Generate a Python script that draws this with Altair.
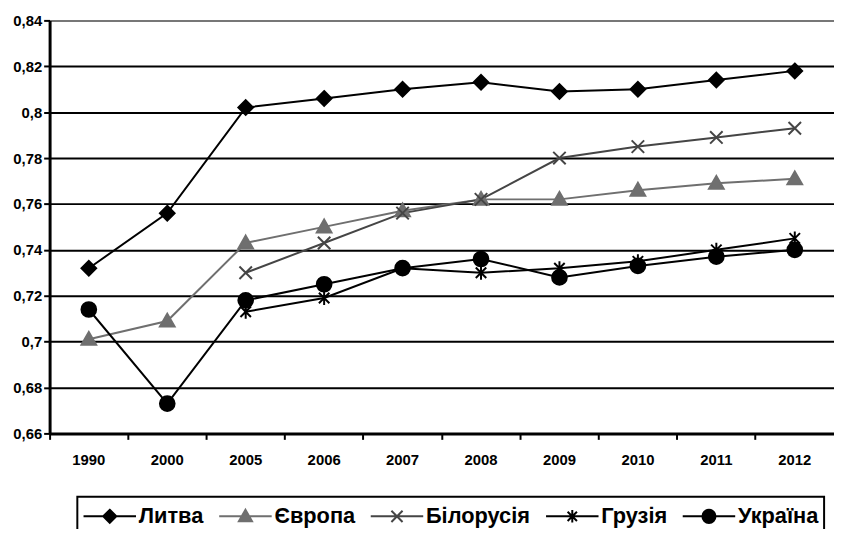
import altair as alt
import pandas as pd

years = ["1990", "2000", "2005", "2006", "2007", "2008", "2009", "2010", "2011", "2012"]
series_names = ["Литва", "Європа", "Білорусія", "Грузія", "Україна"]
lytva = [0.732, 0.756, 0.802, 0.806, 0.810, 0.813, 0.809, 0.810, 0.814, 0.818]
yevropa = [0.701, 0.709, 0.743, 0.750, 0.757, 0.762, 0.762, 0.766, 0.769, 0.771]
bilorusia = [None, None, 0.730, 0.743, 0.756, 0.762, 0.780, 0.785, 0.789, 0.793]
hruzia = [None, None, 0.713, 0.719, 0.732, 0.730, 0.732, 0.735, 0.740, 0.745]
ukraina = [0.714, 0.673, 0.718, 0.725, 0.732, 0.736, 0.728, 0.733, 0.737, 0.740]
y_ticks = [0.66, 0.68, 0.70, 0.72, 0.74, 0.76, 0.78, 0.80, 0.82, 0.84]

rows = []
for name, vals in zip(series_names, [lytva, yevropa, bilorusia, hruzia, ukraina]):
    for yr, v in zip(years, vals):
        if v is not None:
            rows.append({"year": yr, "series": name, "value": v})
df = pd.DataFrame(rows)

line_colors = ["#000000", "#6f6f6f", "#454545", "#000000", "#000000"]


def f(v):
    return f"{v:.3f}"


def diamond(r, c=0.0):
    return f"M{f(c)},{f(-r)}L{f(c + r)},0L{f(c)},{f(r)}L{f(c - r)},0Z"


def triangle(r, c=0.0):
    return f"M{f(c)},{f(-r)}L{f(c + r)},{f(0.75 * r)}L{f(c - r)},{f(0.75 * r)}Z"


def xcross(r, c=0.0):
    return f"M{f(c - r)},{f(-r)}L{f(c + r)},{f(r)}M{f(c - r)},{f(r)}L{f(c + r)},{f(-r)}"


def asterisk(r, c=0.0):
    a = 0.75 * r
    return (f"M{f(c - a)},{f(-a)}L{f(c + a)},{f(a)}M{f(c - a)},{f(a)}L{f(c + a)},{f(-a)}"
            f"M{f(c)},{f(-r)}L{f(c)},{f(r)}")


def circle(r, c=0.0):
    return (f"M{f(c + r)},0A{f(r)},{f(r)},0,1,1,{f(c - r)},0"
            f"A{f(r)},{f(r)},0,1,1,{f(c + r)},0Z")


def markers(k, c=0.0):
    return [diamond(k, c), triangle(k, c), xcross(0.85 * k, c), asterisk(0.95 * k, c), circle(k, c)]


plot_shapes = markers(1.0)
legend_shapes = ["M-1,0L3,0" + p for p in markers(0.5, 1.0)]

FONT = "Liberation Sans"

x_enc = alt.X(
    "year:O",
    sort=years,
    scale=alt.Scale(type="band", paddingInner=0, paddingOuter=0),
    axis=alt.Axis(
        title=None, labelAngle=0, bandPosition=0, domainColor="black", domainWidth=3,
        tickColor="black", tickWidth=2, tickSize=6, labelPadding=13,
        labelFont=FONT, labelFontSize=15, labelFontWeight="bold", labelColor="black",
    ),
)
y_enc = alt.Y(
    "value:Q",
    scale=alt.Scale(domain=[0.66, 0.84], nice=False, zero=False),
    axis=alt.Axis(
        title=None, values=y_ticks, grid=True,
        gridColor=alt.condition("datum.value >= 0.839", alt.value("#777777"), alt.value("black")),
        gridWidth=2, domainColor="black", domainWidth=3,
        tickColor="black", tickWidth=2, tickSize=6, labelPadding=2,
        labelFont=FONT, labelFontSize=15, labelFontWeight="bold", labelColor="black",
        labelExpr="replace(format(datum.value, '.2~f'), '.', ',')",
    ),
)

lines = alt.Chart(df).mark_line(strokeWidth=2).encode(
    x=x_enc, y=y_enc,
    color=alt.Color("series:N", scale=alt.Scale(domain=series_names, range=line_colors), legend=None),
)

points = alt.Chart(df).mark_point(filled=True, size=220, strokeWidth=2, opacity=1).encode(
    x=x_enc, y=y_enc,
    fill=alt.Fill("series:N", scale=alt.Scale(domain=series_names, range=line_colors), legend=None),
    stroke=alt.Stroke("series:N", scale=alt.Scale(domain=series_names, range=line_colors), legend=None),
    shape=alt.Shape("series:N", scale=alt.Scale(domain=series_names, range=plot_shapes), legend=None),
)

leg = dict(
    orient="none", legendX=28, legendY=481, direction="horizontal", columns=5, title=None,
    strokeColor="black", padding=5, symbolSize=702, symbolStrokeWidth=2,
    labelFont=FONT, labelFontSize=22, labelFontWeight="bold", labelColor="black",
    labelOffset=28, columnPadding=11,
)

legend_layer = alt.Chart(df).mark_point(filled=True, size=702, strokeWidth=2, opacity=1).transform_filter(
    "false"
).encode(
    fill=alt.Fill("series:N", scale=alt.Scale(domain=series_names, range=line_colors), legend=alt.Legend(**leg)),
    stroke=alt.Stroke("series:N", scale=alt.Scale(domain=series_names, range=line_colors), legend=alt.Legend(**leg)),
    shape=alt.Shape("series:N", scale=alt.Scale(domain=series_names, range=legend_shapes), legend=alt.Legend(**leg)),
)

chart = alt.layer(lines, points, legend_layer).resolve_scale(
    color="independent", fill="independent", stroke="independent", shape="independent"
).properties(
    width=792, height=417,
    autosize=alt.AutoSizeParams(type="none"),
    padding={"left": 42, "top": 10, "right": 0, "bottom": 94},
).configure_view(stroke=None).configure_legend(strokeWidth=2)

chart.save("out.html", embed_options={"renderer": "svg", "actions": False})
